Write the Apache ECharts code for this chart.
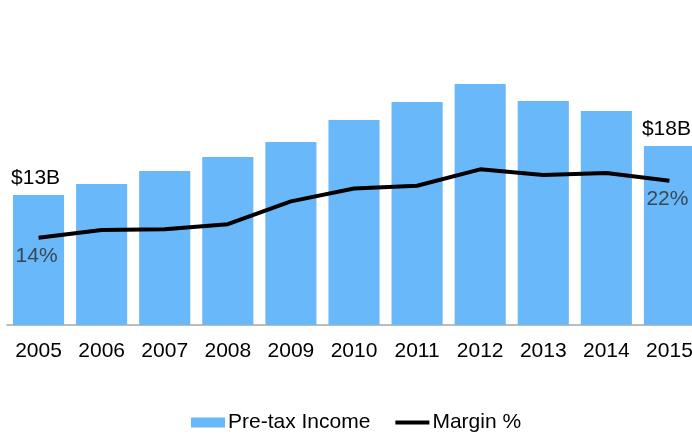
<!DOCTYPE html>
<html>
<head>
<meta charset="utf-8">
<script src="https://cdn.jsdelivr.net/npm/echarts@6/dist/echarts.min.js"></script>
<style>html,body{margin:0;padding:0;background:#fff;overflow:hidden;width:692px;height:436px}#c{width:701px;height:436px}</style>
</head>
<body>
<div id="c"></div>
<script>
var years = ['2005','2006','2007','2008','2009','2010','2011','2012','2013','2014','2015'];
var pretaxIncome = [13.0, 14.1, 15.4, 16.8, 18.3, 20.5, 22.3, 24.1, 22.4, 21.4, 17.9];
var marginPct = [14.0, 15.1, 15.2, 15.9, 19.1, 20.9, 21.3, 23.6, 22.8, 23.1, 22.0];
var barLabelIdx = [0, 10];
var lineLabelIdx = [0, 10];

var font = 'Liberation Sans, Arial, sans-serif';
var chart = echarts.init(document.getElementById('c'));
chart.setOption({
  animation: false,
  textStyle: {fontFamily: font},
  grid: {left: 7, right: 0, top: 25, bottom: 111, containLabel: false},
  legend: {
    left: 191, top: 412, padding: 0,
    itemWidth: 34, itemHeight: 10, itemGap: 25,
    textStyle: {fontSize: 21, color: '#000', fontFamily: font, padding: [0, 0, 0, -2]},
    data: [
      {name: 'Pre-tax Income', icon: 'rect'},
      {name: 'Margin %', icon: 'path://M0,0 L36,0 L36,4 L0,4 Z', itemStyle: {color: '#000'}}
    ]
  },
  xAxis: {
    type: 'category', data: years,
    axisLine: {lineStyle: {color: '#A6A6A6', width: 1.5}},
    axisTick: {show: false},
    axisLabel: {fontSize: 21, color: '#000', margin: 16, fontFamily: font}
  },
  yAxis: [
    {type: 'value', min: 0, max: 30, show: false, splitLine: {show: false}},
    {type: 'value', min: 1.75, max: 43.86, show: false, splitLine: {show: false}}
  ],
  series: [
    {
      name: 'Pre-tax Income', type: 'bar', yAxisIndex: 0,
      data: pretaxIncome, barCategoryGap: '19%',
      itemStyle: {color: '#69B8F9'},
      label: {
        show: true, position: 'top', distance: 6, offset: [-3, 0],
        fontSize: 21, color: '#000', fontFamily: font,
        formatter: function (p) {
          return barLabelIdx.indexOf(p.dataIndex) >= 0 ? '$' + Math.round(p.value) + 'B' : '';
        }
      }
    },
    {
      name: 'Margin %', type: 'line', yAxisIndex: 1,
      data: marginPct, symbol: 'none',
      lineStyle: {color: '#000', width: 4},
      itemStyle: {color: '#000'}
    },
    {
      name: 'marginLabels', type: 'scatter', yAxisIndex: 1,
      data: marginPct, symbolSize: 0, silent: true,
      itemStyle: {color: 'transparent'},
      label: {
        show: true, position: 'bottom', distance: 8, offset: [-2, 0],
        fontSize: 21, color: '#2b2b2b', fontFamily: font,
        formatter: function (p) {
          return lineLabelIdx.indexOf(p.dataIndex) >= 0 ? Math.round(p.value) + '%' : '';
        }
      }
    }
  ]
});
</script>
</body>
</html>
